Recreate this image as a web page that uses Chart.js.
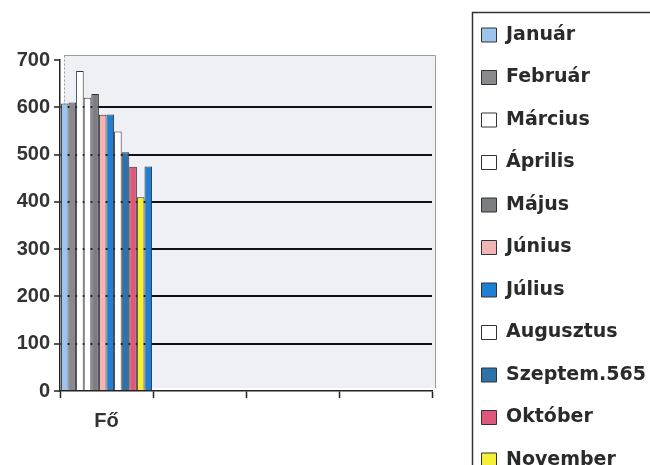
<!DOCTYPE html>
<html>
<head>
<meta charset="utf-8">
<script src="https://cdn.jsdelivr.net/npm/chart.js@4.4.1/dist/chart.umd.min.js"></script>
<style>
  html, body { margin: 0; padding: 0; overflow: hidden; background: #ffffff; width: 650px; height: 465px; }
  #wrap { width: 650px; height: 540px; position: relative; }
</style>
</head>
<body>
<div id="wrap"><canvas id="c" width="650" height="540"></canvas></div>
<script>
// ---- data ----
const categories = ['Fő', '', '', ''];
const seriesNames = ['Január', 'Február', 'Március', 'Április', 'Május', 'Június',
                     'Július', 'Augusztus', 'Szeptem.565', 'Október', 'November', 'December'];
const seriesValues = [608, 610, 677, 620, 628, 584, 585, 549, 505, 474, 410, 475];
const seriesColors = ['#9cc5ee', '#8a8a8e', '#ffffff', '#ffffff', '#7d7e82', '#f2b5b5',
                      '#1f7fd4', '#ffffff', '#2f72a8', '#e0577d', '#f6ef3a', '#1f7fd4'];
const yMin = 0, yMax = 700, yStep = 100;

const CANVAS_H = 540;
const tickFont = { family: 'Liberation Sans', weight: 'bold', size: 20 };
const legendFont = { family: 'DejaVu Sans', weight: 'bold', size: 19 };

const datasets = seriesNames.map((name, i) => ({
  label: name,
  data: categories.map((c, j) => (j === 0 ? seriesValues[i] : null)),
  backgroundColor: seriesColors[i],
  borderColor: '#333333',
  borderWidth: 1,
  xAxisID: 'x',
  yAxisID: 'y'
}));

const wallPlugin = {
  id: 'wall',
  beforeDraw(chart) {
    const { ctx, chartArea: a } = chart;
    ctx.save();
    ctx.fillStyle = '#efeff6';
    ctx.fillRect(a.left + 4, a.top - 5, a.right - a.left, a.bottom - a.top + 2);
    ctx.strokeStyle = '#9a9a9a';
    ctx.lineWidth = 1;
    ctx.beginPath();
    ctx.moveTo(a.left + 4, a.top - 4.5);
    ctx.lineTo(a.right + 3.5, a.top - 4.5);
    ctx.lineTo(a.right + 3.5, a.bottom - 3);
    ctx.stroke();
    ctx.setLineDash([2, 2]);
    ctx.beginPath();
    ctx.moveTo(a.left + 4.5, a.top - 4.5);
    ctx.lineTo(a.left + 4.5, a.bottom - 3);
    ctx.stroke();
    ctx.restore();
  },
  afterDraw(chart) {
    const { ctx } = chart;
    ctx.save();
    ctx.strokeStyle = '#333333';
    ctx.lineWidth = 1.5;
    ctx.strokeRect(472.5, 12.5, 200, CANVAS_H);
    ctx.restore();
  }
};

new Chart(document.getElementById('c'), {
  type: 'bar',
  data: { labels: categories, datasets },
  plugins: [wallPlugin],
  options: {
    responsive: false,
    animation: false,
    devicePixelRatio: 1,
    layout: { padding: { top: 2, left: 0, right: 0, bottom: 0 } },
    datasets: { bar: { categoryPercentage: 0.98, barPercentage: 1.0 } },
    plugins: {
      tooltip: { enabled: false },
      legend: {
        position: 'right',
        align: 'start',
        maxWidth: 192,
        labels: {
          boxWidth: 15,
          boxHeight: 14,
          padding: 23.5,
          font: legendFont,
          color: '#2a2a2a'
        }
      }
    },
    scales: {
      x: {
        type: 'category',
        position: 'bottom',
        offset: true,
        grid: { display: true, offset: true, drawOnChartArea: false, drawTicks: true,
                tickLength: 7, color: '#222222', tickColor: '#222222', tickWidth: 1.5 },
        border: { display: true, color: '#222222', width: 1.5 },
        ticks: { font: tickFont, color: '#333333', padding: 11, maxRotation: 0, autoSkip: false },
        afterFit: s => { s.height = CANVAS_H - 391; }
      },
      y: {
        type: 'linear',
        position: 'left',
        min: yMin,
        max: yMax,
        ticks: { stepSize: yStep, font: tickFont, color: '#333333', padding: 4 },
        grid: {
          color: c => (c.tick && c.tick.value > yMin && c.tick.value < yMax) ? '#111111' : 'rgba(0,0,0,0)',
          lineWidth: 2,
          drawTicks: true,
          tickLength: 6,
          tickColor: '#222222',
          tickWidth: 1.5
        },
        border: { display: true, color: '#222222', width: 1.5 },
        afterFit: s => { s.width = 60; }
      },
      xTop: {
        type: 'category',
        position: 'top',
        display: true,
        grid: { display: false },
        ticks: { display: false },
        border: { display: false },
        afterFit: s => { s.height = 58; }
      },
      yRight: {
        type: 'linear',
        position: 'right',
        display: true,
        grid: { display: false },
        ticks: { display: false },
        border: { display: false },
        afterFit: s => { s.width = 26; }
      }
    }
  }
});
</script>
</body>
</html>
